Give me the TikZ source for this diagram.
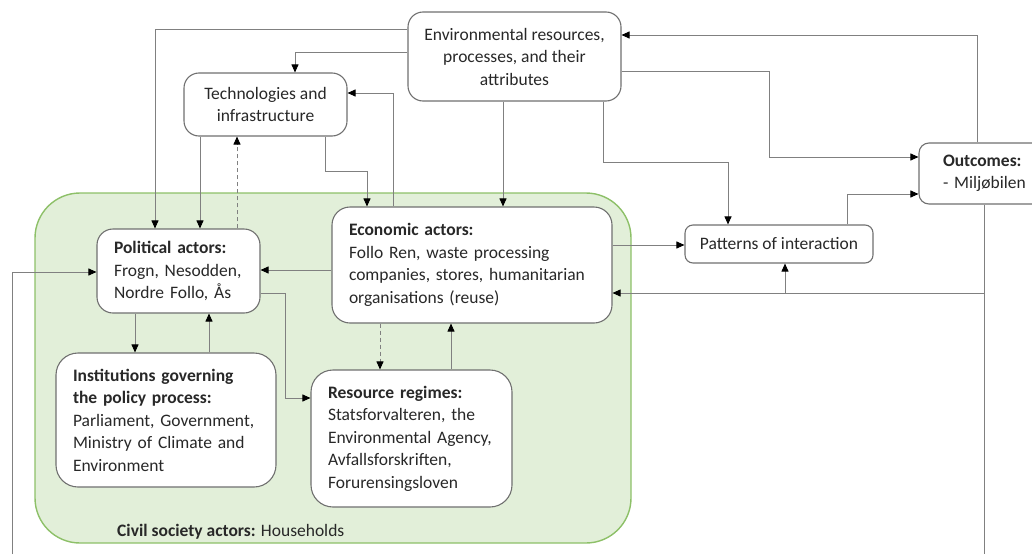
\documentclass[tikz,border=0pt]{standalone}
\usepackage{fontspec}
\setmainfont{Carlito}
\usetikzlibrary{arrows.meta}
\definecolor{gfill}{RGB}{226,239,217}
\definecolor{gline}{RGB}{141,192,104}
\definecolor{bline}{RGB}{112,112,112}
\definecolor{cline}{RGB}{128,128,128}
\definecolor{txt}{RGB}{40,40,40}
\tikzset{
  box/.style={draw=bline, line width=1.1pt, fill=white, rounded corners=15pt,
    text=txt, font=\fontsize{17.5}{22.5}\selectfont, inner ysep=0pt},
  lbox/.style={box, align=left, inner xsep=17pt},
  cbox/.style={box, align=center, inner xsep=4pt},
  arr/.style={draw=cline, line width=0.9pt, -{Triangle[length=8pt,width=7pt,color=black]}},
  ln/.style={draw=cline, line width=0.9pt},
  dsh/.style={dash pattern=on 4pt off 3pt},
}
\begin{document}
\begin{tikzpicture}[x=1pt,y=-1pt]
\useasboundingbox (0,0) rectangle (1032,554);
\clip (0,0) rectangle (1032,554);
% green region
\draw[fill=gfill, draw=gline, line width=1.4pt, rounded corners=45pt] (35,193) rectangle (631,543);
\node[anchor=base west, text=txt, font=\fontsize{17.5}{22.5}\selectfont, inner sep=0pt] (civl) at (117,536) {\textbf{Civil society actors:} Households};
% boxes
\node[cbox, minimum width=213pt, minimum height=89pt] (env) at (514.5,56.5) {Environmental resources,\\processes, and their\\attributes};
\node[cbox, minimum width=163pt, minimum height=63pt] (tech) at (265.5,104.5) {Technologies and\\infrastructure};
\node[lbox, text width=129pt, minimum height=84pt, rounded corners=16pt] (pol) at (178.5,271) {\textbf{Political actors:}\\Frogn, Nesodden,\\Nordre Follo, Ås};
\node[lbox, text width=246pt, minimum height=116pt, rounded corners=18pt] (eco) at (472,265) {\textbf{Economic actors:}\\Follo Ren, waste processing\\companies, stores, humanitarian\\organisations (reuse)};
\node[lbox, text width=186pt, minimum height=134pt, rounded corners=22pt] (ins) at (166,420) {\textbf{Institutions governing}\\\textbf{the policy process:}\\Parliament, Government,\\Ministry of Climate and\\Environment};
\node[lbox, text width=167pt, minimum height=137pt, rounded corners=22pt] (res) at (411.5,438.5) {\textbf{Resource regimes:}\\Statsforvalteren, the\\Environmental Agency,\\Avfallsforskriften,\\Forurensingsloven};
\node[cbox, minimum width=188pt, minimum height=38pt, rounded corners=8pt] (pat) at (779,244) {Patterns of interaction};
\node[lbox, inner xsep=24pt, text width=100pt, minimum height=61pt, rounded corners=10pt] (out) at (993,173.5) {\textbf{Outcomes:}\\- Miljøbilen};
% connectors
\draw[arr] (env.west |- 0,29) -| (155,0 |- pol.north);
\draw[arr] (env.west |- 0,52) -| (295,0 |- tech.north);
\draw[arr] (200,0 |- tech.south) -- (200,0 |- pol.north);
\draw[arr,dsh] (237,0 |- pol.north) -- (237,0 |- tech.south);
\draw[arr] (325,0 |- tech.south) -- (325,171) -| (367,0 |- eco.north);
\draw[arr] (393,0 |- eco.north) |- (tech.east |- 0,93);
\draw[arr] (503,0 |- env.south) -- (503,0 |- eco.north);
\draw[arr] (603,0 |- env.south) -- (603,162) -| (728,0 |- pat.north);
\draw[arr] (env.east |- 0,71) -| (769,157) -- (out.west |- 0,157);
\draw[arr] (977,0 |- out.north) |- (env.east |- 0,35);
\draw[arr] (847,0 |- pat.north) |- (out.west |- 0,194);
\draw[arr] (eco.east |- 0,245) -- (pat.west |- 0,245);
\coordinate (j1) at (984,293);
\coordinate (j2) at (785,293);
\coordinate (b1) at (984,554);
\coordinate (b2) at (12,554);
\draw[arr] (984,0 |- out.south) -- (j1) -- (eco.east |- j1);
\draw[arr] (j2) -- (j2 |- pat.south);
\draw[ln] (j1) -- (b1);
\draw[arr] (b2) |- (pol.west |- 0,272);
\draw[arr] (eco.west |- 0,270) -- (pol.east |- 0,270);
\draw[arr] (pol.east |- 0,293) -| (285,398) -- (res.west |- 0,398);
\draw[arr] (135,0 |- pol.south) -- (135,0 |- ins.north);
\draw[arr] (209,0 |- ins.north) -- (209,0 |- pol.south);
\draw[arr,dsh] (380,0 |- eco.south) -- (380,0 |- res.north);
\draw[arr] (451,0 |- res.north) -- (451,0 |- eco.south);
\end{tikzpicture}
\end{document}
